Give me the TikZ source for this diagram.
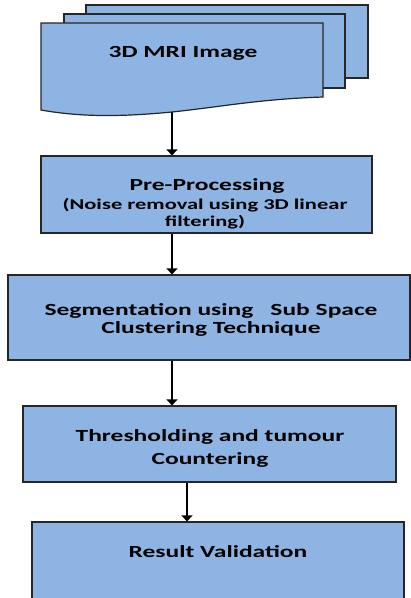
\documentclass[tikz,border=0pt]{standalone}
\usepackage{fontspec}
\setmainfont{Carlito}[FakeStretch=1.5]
\usetikzlibrary{arrows.meta}
\definecolor{boxblue}{RGB}{141,180,226}
\colorlet{edgeink}{black!85}
\tikzset{
  sheet/.style={draw=edgeink, fill=boxblue, line width=1.2pt},
  stage/.style={sheet, rectangle, inner sep=0pt},
  caption/.style={font=\bfseries\fontsize{17}{18}\selectfont, align=center, inner sep=0pt},
  flow/.style={line width=2.8pt, -{Triangle[length=6pt,width=11pt]}}
}

\begin{document}
\begin{tikzpicture}[x=1pt,y=-1pt]
\clip (0,0) rectangle (411,598);
\fill[white] (0,0) rectangle (411,598);
\draw[sheet] (86,5) rectangle (368,78);
\draw[sheet] (64,14) rectangle (345,88);
\draw[sheet] (41,23) -- (323,23) -- (323,97) .. controls (260,99) and (220,107) .. (172,112)
  .. controls (120,117) and (80,117) .. (41,110) -- cycle;
\coordinate (docbot) at (172,112);
\coordinate (lane) at (187,0);
\node[caption, anchor=base] (mri) at (183,57) {3D MRI Image};
\node[stage, minimum width=331, minimum height=77] (pre) at (206.5,194.5) {};
\node[stage, minimum width=402, minimum height=85] (seg) at (209,317.5) {};
\node[stage, minimum width=373, minimum height=76] (thr) at (209.5,444) {};
\node[stage, minimum width=372, minimum height=130] (res) at (218,587) {};
\node[caption, anchor=base] (pretxt) at (207,190.5) {Pre-Processing};
\node[caption, font=\bfseries\fontsize{15}{17.5}\selectfont, anchor=north] (prenote) at (205,198)
  {(Noise removal using 3D linear\\filtering)};
\node[caption, font=\bfseries\fontsize{17}{17.6}\selectfont] (segtxt) at (211,320)
  {Segmentation using\hspace{1em}Sub Space\\Clustering Technique};
\node[caption, font=\bfseries\fontsize{17}{23}\selectfont] (thrtxt) at (210,448)
  {Thresholding and tumour\\Countering};
\node[caption, anchor=base] (restxt) at (218,557.5) {Result Validation};
\draw[flow] (docbot) -- (docbot |- pre.north);
\draw[flow] (docbot |- pre.south) -- (docbot |- seg.north);
\draw[flow] (docbot |- seg.south) -- (docbot |- thr.north);
\draw[flow] (lane |- thr.south) -- (lane |- res.north);
\end{tikzpicture}
\end{document}
